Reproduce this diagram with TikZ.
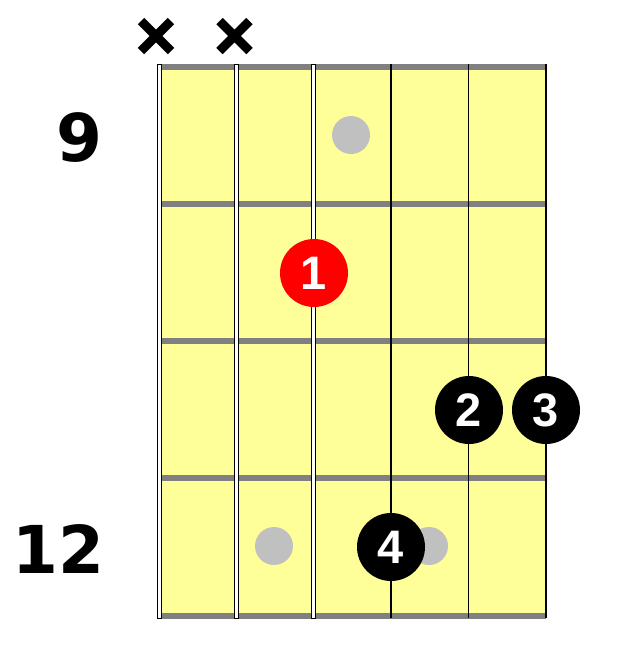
\documentclass[tikz,border=0pt]{standalone}
\usepackage{fontspec}
\setmainfont{Liberation Sans}
\newfontfamily\fretfont{DejaVu Sans}
\usepackage{tikz}
\usetikzlibrary{positioning}
\definecolor{boardyellow}{HTML}{FFFF99}
\definecolor{fretgray}{HTML}{808080}
\definecolor{inlaygray}{HTML}{C0C0C0}
\tikzset{finger/.style={circle, fill=black, text=white, minimum size=68pt, inner sep=0pt,
    font=\fontsize{47}{47}\selectfont\bfseries},
inlay/.style={circle, fill=inlaygray, minimum size=38pt, inner sep=0pt},
fretnum/.style={inner sep=0pt, font=\fretfont\fontsize{66}{66}\selectfont\bfseries},
mute/.style={line width=9pt},
fretline/.style={fretgray, line width=6pt}
}

\begin{document}
\begin{tikzpicture}[x=1pt, y=-1pt]
        \useasboundingbox (0,0) rectangle (630,654);
        \foreach \x [count=\i] in {159.5,236,313.5,391,468.5,546} {
          \coordinate (t\i) at (\x,64);
          \coordinate (b\i) at (\x,618);
        }
        \fill[boardyellow] (t1) rectangle (b6);
        \foreach \y in {67,204,341,478,615.5}
          \draw[fretline] (159.5,\y) -- (546,\y);

        % wound strings
        \foreach \i in {1,2,3}
          \draw[fill=white, line width=1pt] ([xshift=-2pt]t\i) rectangle ([xshift=2pt]b\i);
        \foreach \i in {4,5,6}
          \draw[line width=1.5pt] (t\i) -- (b\i);

        % muted strings
        \coordinate (m1) at (156,36);
        \coordinate (m2) at (234.5,36);
        \draw[mute] ([shift={(-15,-15)}]m1) -- ([shift={(15,15)}]m1)
                    ([shift={(-15,15)}]m1) -- ([shift={(15,-15)}]m1);
        \draw[mute] ([shift={(-15,-15)}]m2) -- ([shift={(15,15)}]m2)
                    ([shift={(-15,15)}]m2) -- ([shift={(15,-15)}]m2);

        \node[fretnum] (fr9)  at (79,138)   {9};
        \node[fretnum] (fr12) at (58.5,549) {12};

        \node[inlay] (in9)   at (351,135) {};
        \node[inlay] (in12a) at (274,546) {};
        \node[inlay] (in12b) at (429,546) {};

        \node[finger, fill=red] (f1) at (314,273) {1};
        \node[finger]           (f2) at (469,410) {2};
        \node[finger]           (f3) at (546,410) {3};
        \node[finger]           (f4) at (391,547) {4};
\end{tikzpicture}
\end{document}
